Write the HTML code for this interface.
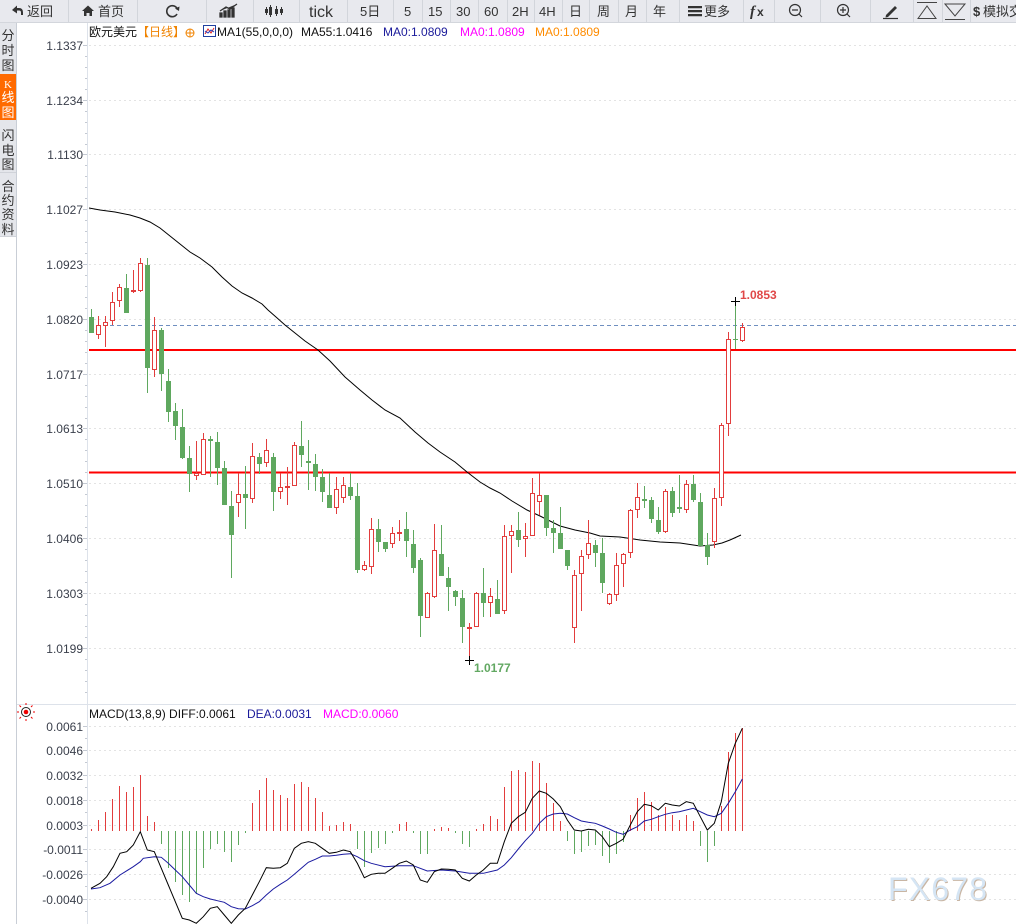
<!DOCTYPE html>
<html><head><meta charset="utf-8"><style>
html,body{margin:0;padding:0;background:#fff;overflow:hidden;}
svg{display:block;font-family:"Liberation Sans","Noto Sans CJK SC",sans-serif;}
</style></head><body>
<svg width="1016" height="924" viewBox="0 0 1016 924" xmlns="http://www.w3.org/2000/svg">
<rect width="1016" height="924" fill="#fff"/>
<!-- toolbar -->
<rect x="0" y="0" width="1016" height="22" fill="#e8e9ee"/>
<line x1="0" y1="22.5" x2="1016" y2="22.5" stroke="#d3d6dc"/>
<g stroke="#d2d5db">
<path d="M68.5 0V22M137.5 0V22M206.5 0V22M253.5 0V22M299.5 0V22M347.5 0V22M393.5 0V22M422.5 0V22M450.5 0V22M478.5 0V22M507.5 0V22M534.5 0V22M562.5 0V22M589.5 0V22M618.5 0V22M646.5 0V22M679.5 0V22M743.5 0V22M774.5 0V22M820.5 0V22M870.5 0V22M913.5 0V22M942.5 0V22M970.5 0V22"/>
</g>
<g fill="#333" font-size="13">
<path d="M12 10 L17 5.5 V8 H19 Q23 8 23 12.5 V15 H21 V12.5 Q21 10.5 19 10.5 H17 V13.5 Z" fill="#333"/>
<text x="27" y="16">返回</text>
<path d="M82 11 L88 5.5 L94 11 H92 V16 H89.5 V13 H86.5 V16 H84 V11 Z" fill="#333"/>
<text x="98" y="16">首页</text>
<path d="M177.5 9.5 A5.5 5.5 0 1 0 177 14" fill="none" stroke="#333" stroke-width="1.6"/>
<path d="M175 8.5 L179.5 6.5 L179 11 Z"/>
<path d="M220 17h2v-4h-2zM224 17h2v-6h-2zM228 17h2v-7h-2zM232 17h2v-9h-2zM220 11 L226 7 L230 9 L237 4" stroke="#333" stroke-width="1.3" fill="#333"/>
<path d="M266.5 7V15M270.5 5V17M276.5 6V16M281.5 7V15" stroke="#333" stroke-width="1"/>
<rect x="265" y="9" width="3" height="4"/><rect x="269" y="7" width="3" height="8"/><rect x="275" y="9" width="3" height="5"/><rect x="280" y="9" width="3" height="4"/>
<text x="309" y="17" font-size="16">tick</text>
<text x="360" y="16">5日</text>
<text x="404" y="16">5</text>
<text x="428" y="16">15</text>
<text x="456" y="16">30</text>
<text x="484" y="16">60</text>
<text x="512" y="16">2H</text>
<text x="539" y="16">4H</text>
<text x="569" y="16">日</text>
<text x="597" y="16">周</text>
<text x="625" y="16">月</text>
<text x="653" y="16">年</text>
<path d="M688 6h14v2.2h-14zM688 10h14v2.2h-14zM688 14h14v2.2h-14z"/>
<text x="704" y="16">更多</text>
<text x="750" y="16" font-size="15" font-weight="bold" font-style="italic" font-family="Liberation Serif, serif">f</text>
<text x="757" y="16" font-size="12" font-weight="bold">x</text>
<circle cx="795" cy="10" r="5.5" fill="none" stroke="#333" stroke-width="1.2"/><path d="M792 10h6M799 14l3 3" stroke="#333" stroke-width="1.2"/>
<circle cx="843" cy="10" r="5.5" fill="none" stroke="#333" stroke-width="1.2"/><path d="M840 10h6M843 7v6M847 14l3 3" stroke="#333" stroke-width="1.2"/>
<path d="M886 15 L895 6 L897 8 L888 17 L885.5 17.5 Z"/><path d="M883 18.5h15" stroke="#333" stroke-width="1.2"/>
<path d="M917 2.5h20M918 18.5 L927 6 L936 18.5 Z" fill="none" stroke="#444" stroke-width="1"/>
<path d="M945 4 L955 16 L965 4 Z M945 19.5h20" fill="none" stroke="#444" stroke-width="1"/>
<text x="973" y="16" font-weight="bold">$</text>
<text x="983" y="16">模拟交</text>
</g>
<!-- sidebar -->
<rect x="0" y="23" width="16" height="214" fill="#e4e6eb"/>
<rect x="0" y="74" width="16" height="46" fill="#ff6a00"/>
<path d="M0 172.5H16M0 236.5H16" stroke="#d0d3d9"/>
<line x1="16.5" y1="23" x2="16.5" y2="924" stroke="#c9ced6"/>
<g font-size="13" fill="#333" text-anchor="middle">
<text x="8" y="40">分</text><text x="8" y="55">时</text><text x="8" y="70">图</text>
<text x="8" y="88" fill="#fff" font-size="11" font-family="Liberation Serif, serif">K</text><text x="8" y="102" fill="#fff">线</text><text x="8" y="117" fill="#fff">图</text>
<text x="8" y="140">闪</text><text x="8" y="155">电</text><text x="8" y="169">图</text>
<text x="8" y="191">合</text><text x="8" y="205">约</text><text x="8" y="219">资</text><text x="8" y="234">料</text>
</g>
<!-- axes -->
<line x1="87.5" y1="23" x2="87.5" y2="924" stroke="#dde2ea"/>
<line x1="17" y1="704.5" x2="1016" y2="704.5" stroke="#dde2ea"/>
<!-- main grid -->
<g stroke="#e3e3e3" stroke-dasharray="2,3">
<path d="M89 45.5H1016M89 100.5H1016M89 154.5H1016M89 209.5H1016M89 264.5H1016M89 319.5H1016M89 374.5H1016M89 428.5H1016M89 483.5H1016M89 538.5H1016M89 593.5H1016M89 648.5H1016"/>
</g>
<g stroke="#c4c9d2">
<path d="M83 45.5h4M83 100.5h4M83 154.5h4M83 209.5h4M83 264.5h4M83 319.5h4M83 374.5h4M83 428.5h4M83 483.5h4M83 538.5h4M83 593.5h4M83 648.5h4"/>
<path d="M85 56.5h2M85 67.5h2M85 78.5h2M85 89.5h2M85 111.5h2M85 122.5h2M85 133.5h2M85 144.5h2M85 165.5h2M85 176.5h2M85 187.5h2M85 198.5h2M85 220.5h2M85 231.5h2M85 242.5h2M85 253.5h2M85 275.5h2M85 286.5h2M85 297.5h2M85 308.5h2M85 330.5h2M85 341.5h2M85 352.5h2M85 363.5h2M85 385.5h2M85 396.5h2M85 407.5h2M85 418.5h2M85 439.5h2M85 450.5h2M85 461.5h2M85 472.5h2M85 494.5h2M85 505.5h2M85 516.5h2M85 527.5h2M85 549.5h2M85 560.5h2M85 571.5h2M85 582.5h2M85 604.5h2M85 615.5h2M85 626.5h2M85 637.5h2M85 659.5h2M85 670.5h2M85 681.5h2M85 692.5h2"/>
</g>
<g font-size="12" fill="#3a3f4b" text-anchor="end">
<text x="83" y="50">1.1337</text><text x="83" y="105">1.1234</text><text x="83" y="159">1.1130</text><text x="83" y="214">1.1027</text><text x="83" y="269">1.0923</text><text x="83" y="324">1.0820</text><text x="83" y="379">1.0717</text><text x="83" y="433">1.0613</text><text x="83" y="488">1.0510</text><text x="83" y="543">1.0406</text><text x="83" y="598">1.0303</text><text x="83" y="653">1.0199</text>
</g>
<!-- legend -->
<g font-size="12">
<text x="89" y="36" fill="#111">欧元美元</text>
<text x="137" y="36" fill="#f08300">【日线】</text>
<circle cx="190" cy="33" r="4" fill="none" stroke="#f08300"/><path d="M186 33h8M190 29v8" stroke="#f08300"/>
<rect x="203.5" y="25.5" width="12" height="11" fill="#fff" stroke="#2040a0"/><path d="M205 34 L208 29 L211 33 L214 28" fill="none" stroke="#e02020"/><path d="M205 31 L208 33 L211 30 L214 32" fill="none" stroke="#2040c0"/>
<text x="217" y="36" fill="#111">MA1(55,0,0,0)</text>
<text x="301" y="36" fill="#111">MA55:1.0416</text>
<text x="383" y="36" fill="#1a1a9a">MA0:1.0809</text>
<text x="460" y="36" fill="#ff00ff">MA0:1.0809</text>
<text x="535" y="36" fill="#ff8c00">MA0:1.0809</text>
</g>
<!-- horizontal lines -->
<line x1="89" y1="325.5" x2="1016" y2="325.5" stroke="#6f8fc0" stroke-dasharray="4,3"/>
<line x1="89" y1="350" x2="1016" y2="350" stroke="#ff0000" stroke-width="2"/>
<line x1="89" y1="472.5" x2="1016" y2="472.5" stroke="#ff0000" stroke-width="2"/>
<!-- MA55 -->
<polyline fill="none" stroke="#000" stroke-width="1" points="89,208 100,210 115,212 130,215 140,218 150,222 160,228 170,236 180,244 190,252 200,258 212,267 222,277 232,286 242,293 252,298 262,304 268,310 276,317 285,325 295,333 305,341 318,350 330,361 345,377 360,390 372,400 385,410 400,418 415,432 428,443 440,452 455,462 467,472 480,482 490,488 500,493 512,501 527,510 540,516 552,522 560,526 575,530 590,533 600,536 620,537 640,540 660,542 680,543 700,546 713,545 722,543 730,540 741,535"/>
<!-- candles: wicks -->
<path fill="none" stroke="#5fa85f" d="M91.5 309V333M126.5 274V313M147.5 258V393M161.5 328V391M168.5 369V422M175.5 403V440M182.5 409V459M189.5 446V492M210.5 436V477M217.5 432V485M224.5 461V505M231.5 491V578M245.5 466V529M259.5 453V474M273.5 453V511M301.5 421V467M308.5 440V490M315.5 454V491M322.5 469V502M329.5 473V508M350.5 473V500M357.5 483V573M378.5 519V552M385.5 542V552M406.5 512V557M413.5 530V573M420.5 558V637M441.5 525V576M448.5 567V611M455.5 590V606M462.5 590V643M483.5 568V617M497.5 580V614M518.5 512V547M546.5 495V536M553.5 520V553M560.5 507V549M567.5 550V570M595.5 540V567M602.5 538V593M644.5 486V508M651.5 497V523M658.5 507V534M672.5 487V517M679.5 475V513M693.5 475V502M700.5 493V546M707.5 533V565M735.5 302V349"/>
<path fill="none" stroke="#e23d3d" d="M98.5 316V339M105.5 316V347M112.5 292V325M119.5 284V307M133.5 270V293M140.5 258V292M154.5 317V377M196.5 441V480M203.5 433V475M238.5 473V517M252.5 443V503M266.5 439V467M280.5 473V499M287.5 467V505M294.5 442V486M336.5 477V514M343.5 477V503M364.5 561V571M371.5 518V574M392.5 527V548M399.5 520V541M427.5 592V618M434.5 524V598M469.5 623V661M476.5 592V627M490.5 588V617M504.5 525V614M511.5 525V573M525.5 523V557M532.5 478V536M539.5 473V515M574.5 570V643M581.5 550V611M588.5 520V559M609.5 593V605M616.5 553V601M623.5 553V587M630.5 509V558M637.5 483V518M665.5 489V533M686.5 480V513M714.5 488V548M721.5 423V506M728.5 332V436M742.5 323V342"/>
<!-- green bodies -->
<g fill="#5fa85f">
<rect x="89" y="317" width="5" height="16"/><rect x="124" y="288" width="5" height="25"/><rect x="145" y="265" width="5" height="103"/><rect x="159" y="330" width="5" height="44"/><rect x="166" y="381" width="5" height="31"/><rect x="173" y="411" width="5" height="15"/><rect x="180" y="427" width="5" height="31"/><rect x="187" y="458" width="5" height="16"/><rect x="208" y="439" width="5" height="2"/><rect x="215" y="442" width="5" height="26"/><rect x="222" y="468" width="5" height="37"/><rect x="229" y="506" width="5" height="29"/><rect x="243" y="494" width="5" height="4"/><rect x="257" y="457" width="5" height="7"/><rect x="271" y="457" width="5" height="35"/><rect x="299" y="446" width="5" height="9"/><rect x="306" y="461" width="5" height="2"/><rect x="313" y="464" width="5" height="13"/><rect x="320" y="477" width="5" height="15"/><rect x="327" y="495" width="5" height="13"/><rect x="348" y="487" width="5" height="9"/><rect x="355" y="496" width="5" height="74"/><rect x="376" y="529" width="5" height="13"/><rect x="383" y="542" width="5" height="7"/><rect x="404" y="529" width="5" height="12"/><rect x="411" y="544" width="5" height="24"/><rect x="418" y="560" width="5" height="56"/><rect x="439" y="554" width="5" height="22"/><rect x="446" y="578" width="5" height="9"/><rect x="453" y="591" width="5" height="6"/><rect x="460" y="598" width="5" height="29"/><rect x="481" y="593" width="5" height="10"/><rect x="495" y="599" width="5" height="15"/><rect x="516" y="530" width="5" height="10"/><rect x="544" y="495" width="5" height="33"/><rect x="551" y="528" width="5" height="5"/><rect x="558" y="533" width="5" height="16"/><rect x="565" y="550" width="5" height="16"/><rect x="593" y="545" width="5" height="8"/><rect x="600" y="553" width="5" height="30"/><rect x="642" y="499" width="5" height="2"/><rect x="649" y="500" width="5" height="19"/><rect x="656" y="520" width="5" height="12"/><rect x="670" y="491" width="5" height="22"/><rect x="677" y="507" width="5" height="2"/><rect x="691" y="484" width="5" height="16"/><rect x="698" y="502" width="5" height="44"/><rect x="705" y="545" width="5" height="12"/><rect x="733" y="339" width="5" height="1"/>
</g>
<!-- red bodies -->
<g fill="#fff" stroke="#e23d3d">
<rect x="96.5" y="325.5" width="4" height="9"/><rect x="103.5" y="322.5" width="4" height="3"/><rect x="110.5" y="302.5" width="4" height="18"/><rect x="117.5" y="287.5" width="4" height="13"/><rect x="131.5" y="290.5" width="4" height="1"/><rect x="138.5" y="263.5" width="4" height="27"/><rect x="152.5" y="330.5" width="4" height="39"/><rect x="194.5" y="473.5" width="4" height="2"/><rect x="201.5" y="439.5" width="4" height="35"/><rect x="236.5" y="494.5" width="4" height="8"/><rect x="250.5" y="456.5" width="4" height="42"/><rect x="264.5" y="450.5" width="4" height="12"/><rect x="278.5" y="487.5" width="4" height="4"/><rect x="285.5" y="486.5" width="4" height="1"/><rect x="292.5" y="445.5" width="4" height="40"/><rect x="334.5" y="489.5" width="4" height="18"/><rect x="341.5" y="485.5" width="4" height="12"/><rect x="362.5" y="565.5" width="4" height="4"/><rect x="369.5" y="529.5" width="4" height="37"/><rect x="390.5" y="533.5" width="4" height="10"/><rect x="397.5" y="532.5" width="4" height="1"/><rect x="425.5" y="593.5" width="4" height="24"/><rect x="432.5" y="550.5" width="4" height="46"/><rect x="467.5" y="627.5" width="4" height="1"/><rect x="474.5" y="593.5" width="4" height="33"/><rect x="488.5" y="596.5" width="4" height="6"/><rect x="502.5" y="536.5" width="4" height="74"/><rect x="509.5" y="531.5" width="4" height="4"/><rect x="523.5" y="536.5" width="4" height="2"/><rect x="530.5" y="493.5" width="4" height="42"/><rect x="537.5" y="495.5" width="4" height="6"/><rect x="572.5" y="575.5" width="4" height="52"/><rect x="579.5" y="556.5" width="4" height="17"/><rect x="586.5" y="543.5" width="4" height="11"/><rect x="607.5" y="594.5" width="4" height="9"/><rect x="614.5" y="565.5" width="4" height="29"/><rect x="621.5" y="554.5" width="4" height="9"/><rect x="628.5" y="510.5" width="4" height="42"/><rect x="635.5" y="497.5" width="4" height="12"/><rect x="663.5" y="491.5" width="4" height="40"/><rect x="684.5" y="484.5" width="4" height="25"/><rect x="712.5" y="498.5" width="4" height="43"/><rect x="719.5" y="425.5" width="4" height="72"/><rect x="726.5" y="339.5" width="4" height="84"/><rect x="740.5" y="327.5" width="4" height="13"/>
</g>
<!-- hi/lo markers -->
<path d="M731 301.5h9M465 660.5h9M469.5 656v9M735.5 297v9" stroke="#000" stroke-width="1"/>
<text x="740" y="299" font-size="12" font-weight="bold" fill="#e04848">1.0853</text>
<text x="474" y="672" font-size="12" font-weight="bold" fill="#62a862">1.0177</text>
<!-- MACD panel -->
<g stroke="#e3e3e3" stroke-dasharray="2,3">
<path d="M89 726.5H1016M89 750.5H1016M89 775.5H1016M89 800.5H1016M89 825.5H1016M89 849.5H1016M89 874.5H1016M89 899.5H1016"/>
</g>
<g stroke="#c4c9d2">
<path d="M83 726.5h4M83 750.5h4M83 775.5h4M83 800.5h4M83 825.5h4M83 849.5h4M83 874.5h4M83 899.5h4M85 738.5h2M85 762.5h2M85 787.5h2M85 812.5h2M85 837.5h2M85 861.5h2M85 886.5h2M85 911.5h2"/>
</g>
<g font-size="12" fill="#3a3f4b" text-anchor="end">
<text x="83" y="731">0.0061</text><text x="83" y="755">0.0046</text><text x="83" y="780">0.0032</text><text x="83" y="805">0.0018</text><text x="83" y="830">0.0003</text><text x="83" y="854">-0.0011</text><text x="83" y="879">-0.0026</text><text x="83" y="904">-0.0040</text>
</g>
<g>
<circle cx="26" cy="712" r="4.5" fill="none" stroke="#222"/><circle cx="26" cy="712" r="2.3" fill="#e00"/>
<path d="M26 705v-2M26 719v2M19 712h-2M33 712h2M21 707l-1.5-1.5M31 707l1.5-1.5M21 717l-1.5 1.5M31 717l1.5 1.5" stroke="#e00" stroke-width="1"/>
</g>
<g font-size="12">
<text x="89" y="718" fill="#111">MACD(13,8,9) DIFF:0.0061</text>
<text x="247" y="718" fill="#1a1a9a">DEA:0.0031</text>
<text x="323" y="718" fill="#ff00ff">MACD:0.0060</text>
</g>
<path fill="none" stroke="#e23d3d" d="M91.5 831V829M98.5 831V820M105.5 831V812M112.5 831V799M119.5 831V786M126.5 831V792M133.5 831V787M140.5 831V775M147.5 831V816M154.5 831V822M252.5 831V803M259.5 831V790M266.5 831V778M273.5 831V790M280.5 831V795M287.5 831V798M294.5 831V784M301.5 831V782M308.5 831V787M315.5 831V798M322.5 831V812M329.5 831V826M336.5 831V825M343.5 831V822M350.5 831V824M399.5 831V824M406.5 831V822M434.5 831V829M441.5 831V827M448.5 831V828M476.5 831V829M483.5 831V824M490.5 831V816M497.5 831V819M504.5 831V787M511.5 831V771M518.5 831V770M525.5 831V772M532.5 831V761M539.5 831V763M546.5 831V783M553.5 831V803M560.5 831V821M630.5 831V815M637.5 831V798M644.5 831V792M651.5 831V802M658.5 831V815M665.5 831V807M672.5 831V815M679.5 831V820M686.5 831V815M693.5 831V821M721.5 831V806M728.5 831V752M735.5 831V733M742.5 831V728"/>
<path fill="none" stroke="#5fa85f" d="M161.5 831V844M168.5 831V868M175.5 831V882M182.5 831V895M189.5 831V902M196.5 831V894M203.5 831V868M210.5 831V849M217.5 831V844M224.5 831V852M231.5 831V862M238.5 831V845M245.5 831V833M357.5 831V849M364.5 831V867M371.5 831V853M378.5 831V848M385.5 831V844M392.5 831V833M413.5 831V833M420.5 831V854M427.5 831V854M455.5 831V833M462.5 831V844M469.5 831V847M567.5 831V841M574.5 831V854M581.5 831V852M588.5 831V846M595.5 831V845M602.5 831V856M609.5 831V863M616.5 831V854M623.5 831V842M700.5 831V846M707.5 831V862M714.5 831V846"/>
<polyline fill="none" stroke="#1a1aa0" stroke-width="1" points="91,889 100,887.7 110,883.3 120,875 133.3,866.7 140.3,861.7 143.3,858.3 154.3,856.7 161.3,857.3 168.3,863.3 175.3,870 182.3,876.7 189.3,885 196.3,893.3 203.3,896.7 210.3,899 217.3,900.7 224.3,902.3 231.3,906.7 238.3,908.7 245.3,909 252.3,905.7 259.3,901.7 266.3,895 273.3,889 280.3,884.3 287.3,880 294.3,874.3 301.3,868.3 308.3,862.3 315.3,859.3 322.3,856 329.3,856 336.3,855.3 343.3,854.3 350.3,853.7 357.3,856.7 364.3,860.7 371.3,863.3 385,866.7 399.3,865.7 413.3,865.7 427.3,871 441.3,870 455.3,871 469.3,873.3 483.3,873.3 497.3,870 504.3,865 511.3,857.7 518.3,849 525.3,840.7 532.3,833.3 539.3,823.3 546.3,816.7 553.3,814 560.3,813.3 567.3,814 574.3,817.7 581.3,821 588.3,822.3 595.3,823.3 602.3,826 609.3,829 616.3,832.3 623.3,834.3 630.3,830 637.3,826.7 644.3,821 651.3,819.3 658.3,816.7 665.3,814.3 672.3,812.7 679.3,811.7 686.3,810 693.3,808.3 700.3,811.7 707.3,815 714.3,816.7 721.3,813.3 728.3,803.3 735.3,791.7 742.3,779"/>
<polyline fill="none" stroke="#000" stroke-width="1" points="91,888.3 100,883.3 106.7,876.7 113.3,866.7 120,853.3 126.7,851.7 133.3,845 140.3,831.7 147.3,850 154.3,851.7 161.3,868.3 168.3,885 175.3,901.7 182.3,918.3 189.3,920 196.3,923.3 203.3,916.7 210.3,908.3 217.3,906.7 224.3,915 231.3,923.3 238.3,915 245.3,908.3 252.3,895 259.3,881.7 266.3,867.7 273.3,868.3 280.3,867.7 287.3,863.3 294.3,848.3 301.3,843.3 308.3,841.7 315.3,843.3 322.3,848.3 329.3,853.3 336.3,852.3 343.3,850 350.3,851.7 357.3,863.3 364.3,877.7 371.3,874.3 378.3,873.3 385,873.3 392.3,868.3 399.3,863.3 406.3,861 413.3,865 420.3,880 427.3,882.3 434.3,871.7 441.3,869 448.3,869.3 455.3,870 462.3,878.3 469.3,881 476.3,875 483.3,870 490.3,863.3 497.3,863.3 504.3,841.7 511.3,823.3 518.3,816.7 525.3,812.3 532.3,798.3 539.3,791 546.3,793.3 553.3,799 560.3,806.7 567.3,820 574.3,830 581.3,831 588.3,829.3 595.3,830 602.3,836.7 609.3,846.7 616.3,843.3 623.3,839 630.3,825 637.3,811.7 644.3,804.3 651.3,805.7 658.3,810 665.3,803.3 672.3,805 679.3,806 686.3,801.7 693.3,803.3 700.3,816.7 707.3,830 714.3,823.3 721.3,801.7 728.3,763.3 735.3,743.3 742.3,728.3"/>
<!-- watermark -->
<text x="889" y="901" font-size="32" letter-spacing="1.2" fill="#c9b6a4">FX678</text>
<text x="888" y="900" font-size="32" letter-spacing="1.2" fill="#d5e5f4">FX678</text>
</svg>
</body></html>
